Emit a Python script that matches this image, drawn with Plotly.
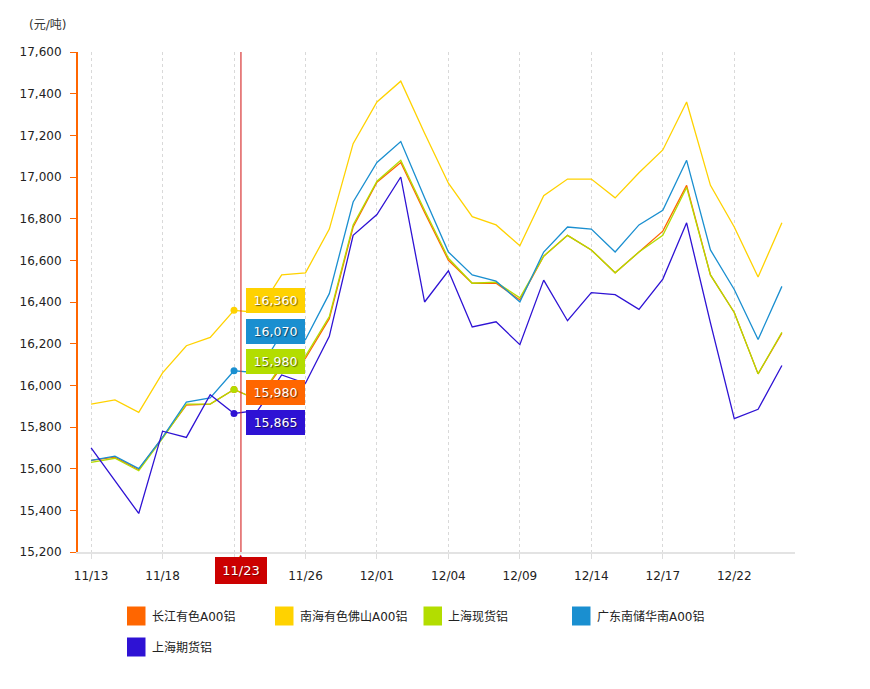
import plotly.graph_objects as go

# ---------------- data ----------------
dates = ["11/13", "11/16", "11/17", "11/18", "11/19", "11/20", "11/23", "11/24", "11/25", "11/26",
         "11/27", "11/30", "12/01", "12/02", "12/03", "12/04", "12/07", "12/08", "12/09", "12/10",
         "12/11", "12/14", "12/15", "12/16", "12/17", "12/18", "12/21", "12/22", "12/23", "12/24"]

changjiang = [15640, 15655, 15595, 15750, 15905, 15910, 15980, 15930, 16090, 16130,
              16320, 16760, 16975, 17070, 16830, 16600, 16490, 16490, 16410, 16620,
              16720, 16650, 16540, 16640, 16740, 16960, 16530, 16350, 16055, 16250]
nanhai = [15910, 15930, 15870, 16060, 16190, 16230, 16360, 16350, 16530, 16540,
          16750, 17160, 17360, 17460, 17210, 16970, 16810, 16770, 16670, 16910,
          16990, 16990, 16900, 17020, 17130, 17360, 16960, 16760, 16520, 16780]
shanghai_spot = [15630, 15650, 15590, 15745, 15910, 15910, 15980, 15930, 16100, 16140,
                 16330, 16770, 16980, 17080, 16840, 16610, 16490, 16495, 16420, 16620,
                 16720, 16650, 16540, 16640, 16720, 16950, 16530, 16350, 16055, 16255]
guangdong = [15640, 15660, 15600, 15750, 15920, 15940, 16070, 16060, 16250, 16220,
             16440, 16880, 17070, 17170, 16900, 16640, 16530, 16500, 16400, 16640,
             16760, 16750, 16640, 16770, 16840, 17080, 16650, 16460, 16220, 16475]
shanghai_fut = [15700, 15540, 15385, 15780, 15750, 15955, 15865, 15880, 16050, 16010,
                16235, 16720, 16820, 17000, 16400, 16550, 16280, 16305, 16195, 16505,
                16310, 16445, 16435, 16365, 16510, 16780, 16300, 15840, 15885, 16095]

series_names = ["长江有色A00铝", "南海有色佛山A00铝", "上海现货铝", "广东南储华南A00铝", "上海期货铝"]
series_values = [changjiang, nanhai, shanghai_spot, guangdong, shanghai_fut]
tick_dates = dates[::3]
y_ticks = [15200, 15400, 15600, 15800, 16000, 16200, 16400, 16600, 16800, 17000, 17200, 17400, 17600]
hover_index = 6
y_title = "(元/吨)"

# ---------------- style ----------------
colors = ["#FF6600", "#FFD200", "#B3DD00", "#1A8FD0", "#2E12D4"]
FONT = "DejaVu Sans, Noto Sans CJK SC, sans-serif"
OFF = 8                                  # page body margin
W, H = 870 - OFF, 689 - OFF
L, R, T, B = 78 - OFF, 795 - OFF, 52 - OFF, 552 - OFF   # plot area in figure pixels
YMIN, YMAX = 15200, 17600
# tooltip label centre (page pixel y) per series, in series order
label_py = [392, 301, 361, 331, 422]
label_dx = 41.5
# legend layout (page pixels)
legend_sq_x = [127, 275, 423.5, 572, 127]
legend_rows = [616, 616, 616, 616, 647]


def px(xp):
    return (xp - OFF - L) / (R - L)


def py(yp):
    return (B - (yp - OFF)) / (B - T)


def val_to_py(v):
    return B - (v - YMIN) / (YMAX - YMIN) * (B - T) + OFF


fig = go.Figure()

for name, vals, col in zip(series_names, series_values, colors):
    fig.add_trace(go.Scatter(x=dates, y=vals, mode="lines", name=name,
                             line=dict(color=col, width=1.3), showlegend=False,
                             hoverinfo="skip"))

# hover dots
for name, vals, col in zip(series_names, series_values, colors):
    fig.add_trace(go.Scatter(x=[dates[hover_index]], y=[vals[hover_index]], mode="markers",
                             marker=dict(color=col, size=7), showlegend=False, hoverinfo="skip"))

annotations = []
shapes = []

# tooltip labels
order = [1, 3, 2, 0, 4]
for i in order:
    v = series_values[i][hover_index]
    dy = label_py[i] - val_to_py(v)
    annotations.append(dict(
        x=dates[hover_index], y=v, xref="x", yref="y",
        text=f"{v:,}", showarrow=True, arrowcolor="rgba(0,0,0,0)", arrowwidth=0.1,
        ax=label_dx, ay=dy,
        bgcolor=colors[i], bordercolor=colors[i], borderwidth=1, borderpad=1,
        width=55, height=21,
        font=dict(family=FONT, size=12.5, color="white", shadow="1px 1px 1px rgba(0,0,0,0.55)"),
    ))

# crosshair
shapes.append(dict(type="line", xref="x", yref="paper", x0=dates[hover_index], x1=dates[hover_index],
                   x0shift=0.29, x1shift=0.29, y0=0, y1=1,
                   line=dict(color="rgba(215,40,40,0.75)", width=1.5)))

# red x-axis hover label
annotations.append(dict(x=dates[hover_index], xref="x", y=0, yref="paper", xshift=7, yshift=-5,
                        yanchor="top", text=dates[hover_index], showarrow=False,
                        bgcolor="#CC0000", bordercolor="#CC0000", borderpad=3, width=44, height=19,
                        font=dict(family=FONT, size=13, color="white",
                                  shadow="1px 1px 1px rgba(0,0,0,0.4)")))
annotations.append(dict(x=dates[hover_index], xref="x", y=0, yref="paper", xshift=7, yshift=1,
                        yanchor="top", text="▲", showarrow=False,
                        font=dict(family=FONT, size=7, color="#CC0000")))

# y title
annotations.append(dict(x=0, xref="paper", y=1, yref="paper", xanchor="left", yanchor="middle",
                        xshift=27 - 78, yshift=52 - 25, text=y_title, showarrow=False,
                        font=dict(family=FONT, size=12, color="#333333")))

# manual legend
for i, name in enumerate(series_names):
    sx = legend_sq_x[i]
    cy = legend_rows[i]
    shapes.append(dict(type="rect", xref="paper", yref="paper",
                       x0=px(sx), x1=px(sx + 18.5), y0=py(cy + 9.5), y1=py(cy - 9.5),
                       fillcolor=colors[i], line=dict(width=0)))
    annotations.append(dict(x=px(sx + 22.5), y=py(cy), xref="paper", yref="paper",
                            xanchor="left", yanchor="middle", text=name, showarrow=False,
                            font=dict(family=FONT, size=12, color="#222222")))

# the hovered date's tick label is covered by the red hover label
tick_text = ["" if d == dates[hover_index] else d for d in tick_dates]

fig.update_layout(
    width=W, height=H,
    margin=dict(l=L, r=W - R, t=T, b=H - B, pad=0),
    paper_bgcolor="white", plot_bgcolor="white",
    showlegend=False,
    font=dict(family=FONT, size=12, color="#333333"),
    annotations=annotations, shapes=shapes,
    hovermode=False,
)

fig.update_xaxes(
    type="category", categoryorder="array", categoryarray=dates,
    range=[-0.55, len(dates) - 1 + 0.55],
    tickmode="array", tickvals=tick_dates, ticktext=tick_text,
    showgrid=True, gridcolor="#D9D9D9", griddash="3px,3px", gridwidth=1,
    showline=True, linecolor="#E3E3E3", linewidth=2,
    ticks="outside", ticklen=5, tickcolor="#DDDDDD",
    ticklabelstandoff=7,
    tickfont=dict(family=FONT, size=12, color="#222222"),
    zeroline=False, fixedrange=True,
)
fig.update_yaxes(
    range=[YMIN, YMAX], tickmode="array", tickvals=y_ticks,
    tickformat=",d", showgrid=False, zeroline=False,
    showline=True, linecolor="#FF6600", linewidth=2,
    ticks="outside", ticklen=6, tickcolor="#FF6600", tickwidth=1,
    ticklabelstandoff=6,
    tickfont=dict(family=FONT, size=12, color="#222222"),
    fixedrange=True,
)

fig.write_html("out.html")
